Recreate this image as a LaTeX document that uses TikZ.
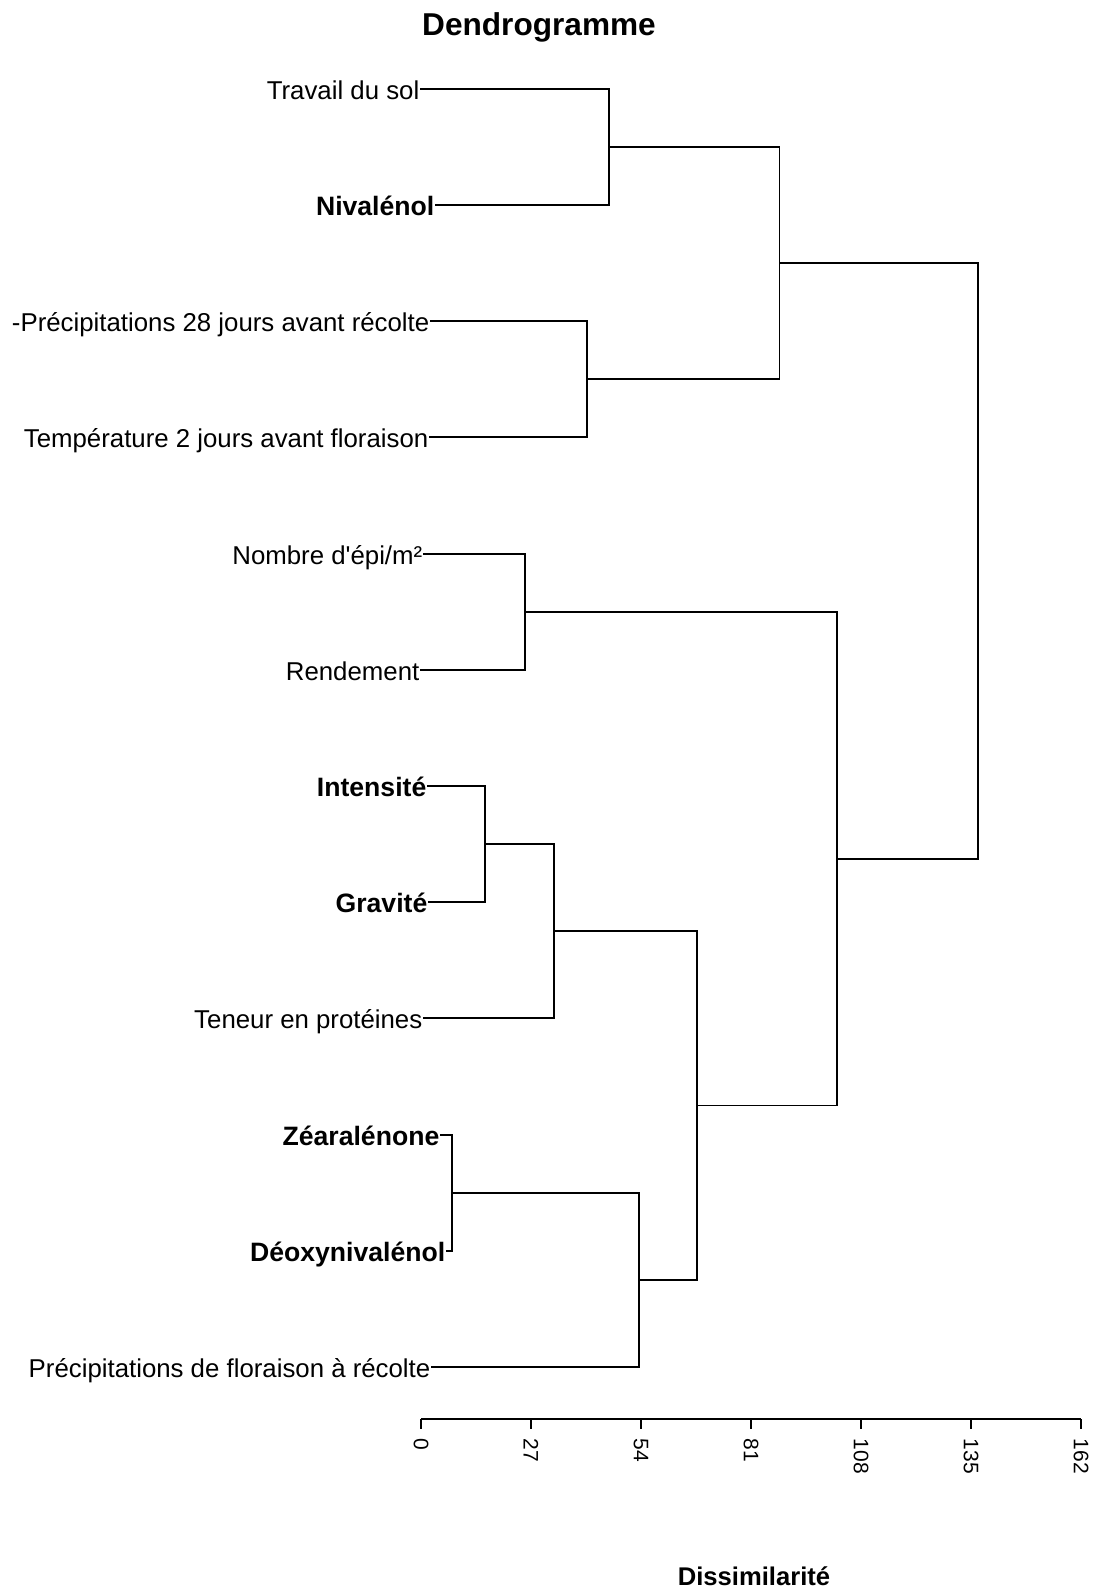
\documentclass[tikz,border=0pt]{standalone}
\usepackage{fontspec}
\setmainfont{Liberation Sans}[Ligatures=TeXOff]
\begin{document}
\begin{tikzpicture}[x=0.5pt,y=-0.5pt,line width=0.7pt,
  leaflab/.style={anchor=base east,inner sep=0pt,font=\fontsize{12.9}{15}\selectfont},
  leafbold/.style={anchor=base east,inner sep=0pt,font=\fontsize{13.3}{15}\selectfont\bfseries},
  ticklab/.style={anchor=west,inner sep=0pt,rotate=-90,font=\fontsize{10.5}{12}\selectfont},
  titlelab/.style={anchor=base,inner sep=0pt,font=\fontsize{15.8}{18}\selectfont\bfseries},
  axislab/.style={anchor=base,inner sep=0pt,font=\fontsize{12.8}{15}\selectfont\bfseries},
  branch/.style={draw=black,line width=0.7pt}]
\useasboundingbox (0,0) rectangle (1098,1590);

% title
\node[titlelab] (title) at (539,35) {Dendrogramme};

% leaf end points
\coordinate (l1) at (420,89);
\coordinate (l2) at (435,205);
\coordinate (l3) at (430,321);
\coordinate (l4) at (429,437);
\coordinate (l5) at (423,554);
\coordinate (l6) at (420,670);
\coordinate (l7) at (427,786);
\coordinate (l8) at (428,902);
\coordinate (l9) at (423,1018);
\coordinate (l10) at (440,1135);
\coordinate (l11) at (446,1251);
\coordinate (l12) at (431,1367);

% leaf labels
\node[leaflab] (t1) at (420,99) {Travail du sol};
\node[leafbold] (t2) at (435,215) {Nivalénol};
\node[leaflab] (t3) at (430,331) {-Précipitations 28 jours avant récolte};
\node[leaflab] (t4) at (429,447) {Température 2 jours avant floraison};
\node[leaflab] (t5) at (423,564) {Nombre d'épi/m²};
\node[leaflab] (t6) at (420,680) {Rendement};
\node[leafbold] (t7) at (427,796) {Intensité};
\node[leafbold] (t8) at (428,912) {Gravité};
\node[leaflab] (t9) at (423,1028) {Teneur en protéines};
\node[leafbold] (t10) at (440,1145) {Zéaralénone};
\node[leafbold] (t11) at (446,1261) {Déoxynivalénol};
\node[leaflab] (t12) at (431,1377) {Précipitations de floraison à récolte};

% merge points
\coordinate (m1) at (609,147);
\coordinate (m2) at (587,379);
\coordinate (m3) at (779.5,263);
\coordinate (m4) at (525,612);
\coordinate (m5) at (485,844);
\coordinate (m6) at (554,931);
\coordinate (m7) at (452,1193);
\coordinate (m8) at (639,1280);
\coordinate (m9) at (697,1105.5);
\coordinate (m10) at (837,858.8);
\coordinate (m11) at (978,561);

% branches
\draw[branch] (l1) -| (m1) |- (l2);
\draw[branch] (l3) -| (m2) |- (l4);
\draw[branch] (m1) -| (m3) |- (m2);
\draw[branch] (l5) -| (m4) |- (l6);
\draw[branch] (l7) -| (m5) |- (l8);
\draw[branch] (m5) -| (m6) |- (l9);
\draw[branch] (l10) -| (m7) |- (l11);
\draw[branch] (m7) -| (m8) |- (l12);
\draw[branch] (m6) -| (m9) |- (m8);
\draw[branch] (m4) -| (m10) |- (m9);
\draw[branch] (m3) -| (m11) |- (m10);

% axis
\draw[branch] (421,1419) -- (1081,1419);
\foreach \v in {0,27,54,81,108,135,162}{
  \pgfmathsetmacro{\xx}{421+\v*4.07407}
  \draw[branch] (\xx,1419) -- (\xx,1429);
  \node[ticklab] at (\xx,1438) {\v};
}
\node[axislab] (xlabel) at (754,1585) {Dissimilarité};
\end{tikzpicture}
\end{document}
